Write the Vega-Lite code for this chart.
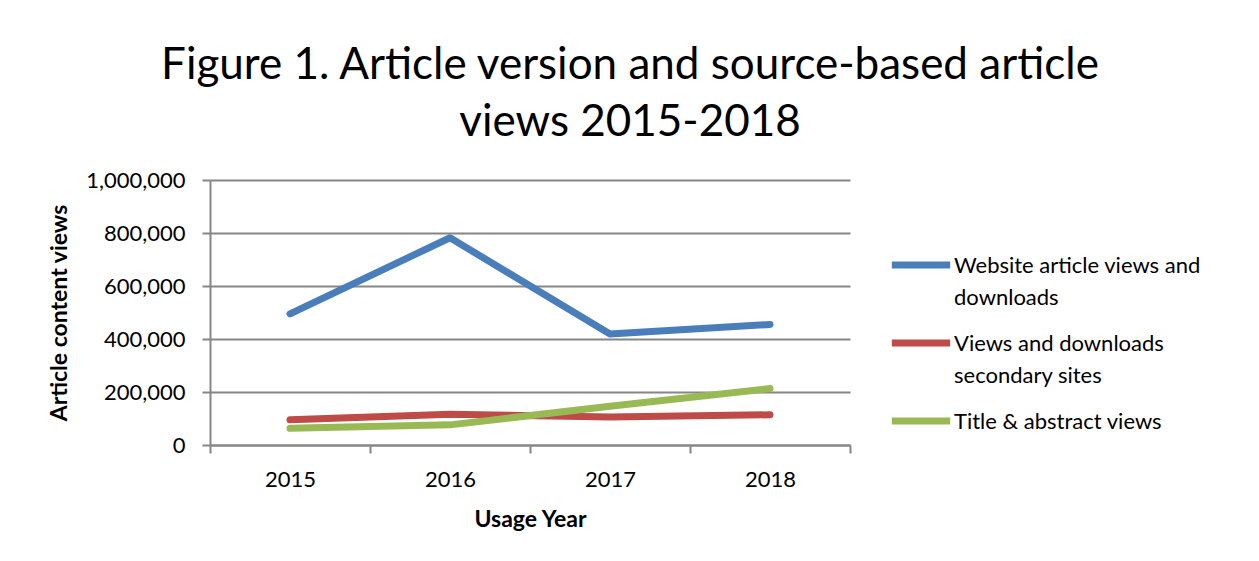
{
  "$schema": "https://vega.github.io/schema/vega-lite/v6.json",
  "width": 640,
  "height": 265,
  "autosize": {"type": "none"},
  "padding": {"left": 210, "top": 180, "right": 409, "bottom": 116},
  "background": "white",
  "title": {
    "text": ["Figure 1. Article version and source-based article", "views 2015-2018"],
    "font": "Lato",
    "fontSize": 44,
    "fontWeight": "normal",
    "color": "#000000",
    "lineHeight": 57,
    "anchor": "middle",
    "dx": 100,
    "offset": 24
  },
  "data": {
    "values": [
      {"year": "2015", "series": "Website article views and downloads", "views": 495000},
      {"year": "2016", "series": "Website article views and downloads", "views": 782000},
      {"year": "2017", "series": "Website article views and downloads", "views": 419000},
      {"year": "2018", "series": "Website article views and downloads", "views": 455000},
      {"year": "2015", "series": "Views and downloads secondary sites", "views": 95000},
      {"year": "2016", "series": "Views and downloads secondary sites", "views": 116000},
      {"year": "2017", "series": "Views and downloads secondary sites", "views": 106000},
      {"year": "2018", "series": "Views and downloads secondary sites", "views": 114000},
      {"year": "2015", "series": "Title & abstract views", "views": 63000},
      {"year": "2016", "series": "Title & abstract views", "views": 76000},
      {"year": "2017", "series": "Title & abstract views", "views": 146000},
      {"year": "2018", "series": "Title & abstract views", "views": 213000}
    ]
  },
  "mark": {"type": "line", "strokeWidth": 7, "strokeCap": "round", "strokeJoin": "round"},
  "encoding": {
    "x": {
      "field": "year",
      "type": "ordinal",
      "title": "Usage Year",
      "scale": {"paddingInner": 0, "paddingOuter": 0},
      "axis": {
        "labelAngle": 0,
        "tickBand": "extent",
        "labelFont": "Lato",
        "labelFontSize": 22,
        "labelColor": "#000000",
        "labelPadding": 16,
        "titleFont": "Lato",
        "titleFontSize": 23,
        "titleFontWeight": "bold",
        "titleColor": "#000000",
        "titlePadding": 18,
        "domainColor": "#868686",
        "domainWidth": 2,
        "tickColor": "#868686",
        "tickWidth": 2,
        "tickSize": 8,
        "grid": false
      }
    },
    "y": {
      "field": "views",
      "type": "quantitative",
      "title": "Article content views",
      "scale": {"domain": [0, 1000000], "nice": false},
      "axis": {
        "values": [0, 200000, 400000, 600000, 800000, 1000000],
        "format": ",.0f",
        "labelFont": "Lato",
        "labelFontSize": 22,
        "labelColor": "#000000",
        "labelPadding": 17,
        "titleFont": "Lato",
        "titleFontSize": 23,
        "titleFontWeight": "bold",
        "titleColor": "#000000",
        "titlePadding": 14,
        "domainColor": "#868686",
        "domainWidth": 2,
        "tickColor": "#868686",
        "tickWidth": 2,
        "tickSize": 8,
        "grid": true,
        "gridColor": "#868686",
        "gridWidth": 2
      }
    },
    "color": {
      "field": "series",
      "type": "nominal",
      "sort": ["Website article views and downloads", "Views and downloads secondary sites", "Title & abstract views"],
      "scale": {
        "domain": ["Website article views and downloads", "Views and downloads secondary sites", "Title & abstract views"],
        "range": ["#4a7ebb", "#be4b48", "#98b954"]
      },
      "legend": {
        "title": null,
        "orient": "none",
        "legendX": 678,
        "legendY": 52,
        "padding": 0,
        "symbolType": "stroke",
        "symbolSize": 3400,
        "symbolStrokeWidth": 7,
        "labelFont": "Lato",
        "labelFontSize": 22,
        "labelColor": "#000000",
        "labelLimit": 400,
        "labelOffset": 0,
        "labelBaseline": "alphabetic",
        "rowPadding": 1,
        "encode": {"labels": {"update": {"dy": {"value": 8}, "lineHeight": {"value": 32}}}},
        "labelExpr": "datum.label == 'Website article views and downloads' ? ['Website article views and', 'downloads'] : datum.label == 'Views and downloads secondary sites' ? ['Views and downloads', 'secondary sites'] : datum.label"
      }
    }
  },
  "config": {
    "view": {"stroke": null}
  }
}
